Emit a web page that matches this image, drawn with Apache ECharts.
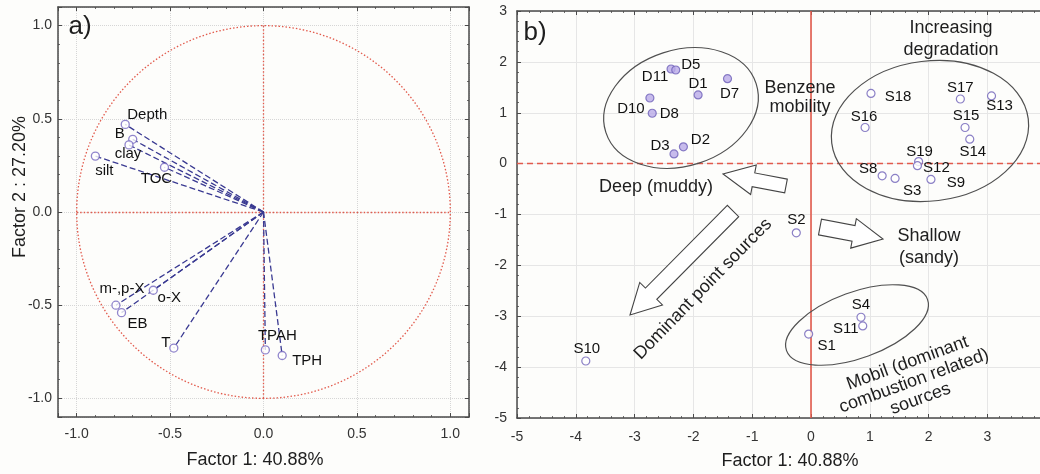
<!DOCTYPE html>
<html><head><meta charset="utf-8">
<script src="https://cdn.jsdelivr.net/npm/echarts@6/dist/echarts.min.js"></script>
<style>html,body{margin:0;padding:0;background:#fdfdfb;overflow:hidden;} #c{width:1040px;height:474px;}</style>
</head><body><div id="c"></div>
<script>
// ---- Panel a: factor loadings ----
const loadingVars = ['Depth','B','clay','silt','TOC','m-,p-X','o-X','EB','T','TPAH','TPH'];
const loadingF1  = [-0.74,-0.70,-0.72,-0.90,-0.53,-0.79,-0.59,-0.76,-0.48,0.01,0.10];
const loadingF2  = [0.47,0.39,0.36,0.30,0.24,-0.50,-0.42,-0.54,-0.73,-0.74,-0.77];

// ---- Panel b: factor scores ----
const deepSites = ['D11','D5','D1','D7','D10','D8','D3','D2'];
const deepF1 = [-2.38,-2.30,-1.92,-1.42,-2.74,-2.70,-2.33,-2.17];
const deepF2 = [1.86,1.84,1.35,1.67,1.29,0.99,0.19,0.33];

const shallowSites = ['S18','S16','S17','S13','S15','S14','S19','S12','S8','S3','S9','S2','S4','S11','S1','S10'];
const shallowF1 = [1.02,0.92,2.54,3.07,2.62,2.70,1.83,1.81,1.21,1.43,2.04,-0.25,0.85,0.88,-0.04,-3.83];
const shallowF2 = [1.38,0.71,1.27,1.33,0.71,0.48,0.04,-0.04,-0.24,-0.29,-0.31,-1.36,-3.02,-3.19,-3.35,-3.88];

// axis titles
const xTitleA = 'Factor 1: 40.88%';
const yTitleA = 'Factor 2 : 27.20%';
const xTitleB = 'Factor 1: 40.88%';

// ---- layout (label offsets in px, not data) ----
const labelOffsetA = {'Depth':[22,-10],'B':[-13,-5],'clay':[-1,9],'silt':[9,15],'TOC':[-8,12],
  'm-,p-X':[6,-16],'o-X':[16,8],'EB':[16,11],'T':[-8,-5],'TPAH':[12,-14],'TPH':[25,5]};
const labelOffsetB = {D11:[-16,8],D5:[15,-5],D1:[0,-11],D7:[2,15],D10:[-19,11],D8:[17,1],D3:[-14,-8],D2:[17,-7],
  S18:[27,3],S16:[-1,-11],S17:[0,-11],S13:[8,10],S15:[1,-12],S14:[3,13],S19:[1,-10],S12:[19,2],S8:[-14,-7],
  S3:[17,12],S9:[25,3],S2:[0,-13],S4:[0,-12],S11:[-17,3],S1:[18,12],S10:[1,-12]};

const FONT = '"Liberation Sans", Arial, Helvetica, sans-serif';
const TXT = '#1e1e1e';
const AXC = '#4a4a4a';
const RED = '#e25a4c';

function axisBase(extra){
  return Object.assign({
    type:'value',
    axisLine:{show:true, onZero:false, lineStyle:{color:AXC, width:1.5}},
    axisTick:{show:true, inside:true, length:4, lineStyle:{color:AXC, width:1}},
    minorTick:{show:true, splitNumber:5, length:2, lineStyle:{color:AXC, width:0.8}},
    axisLabel:{show:true, color:'#333', fontFamily:FONT, fontSize:14},
    splitLine:{show:false}
  }, extra);
}
const fmtA = v => { const r = Math.round(v*2)/2; return Math.abs(r-v) < 1e-6 ? v.toFixed(1) : ''; };
const fmtB = v => String(Math.round(v));

const splitA = {show:true, lineStyle:{color:'#d6d6d6', type:'dotted', width:1}};
const splitB = {show:true, lineStyle:{color:'#e6e6e6', type:'solid', width:1}};
const lbl = {show:true, position:'inside', formatter:'{b}', color:'#111', opacity:1, fontFamily:FONT, fontSize:15, textBorderWidth:0, textBorderColor:'transparent'};

const option = {
  animation:false,
  backgroundColor:'#fdfdfb',
  textStyle:{fontFamily:FONT},
  grid:[
    {left:58, top:7, width:411, height:410, outerBoundsMode:'none', containLabel:false},
    {left:517, top:11, width:588, height:407, outerBoundsMode:'none', containLabel:false}
  ],
  xAxis:[
    axisBase({gridIndex:0, position:'bottom', min:-1.1, max:1.1, splitNumber:4,
      axisLabel:{color:'#333', fontFamily:FONT, fontSize:14, margin:10, formatter:fmtA},
      splitLine:splitA}),
    axisBase({gridIndex:0, position:'top', min:-1.1, max:1.1, splitNumber:4, axisLabel:{show:false}}),
    axisBase({gridIndex:1, position:'bottom', min:-5, max:5, interval:1,
      axisLabel:{color:'#333', fontFamily:FONT, fontSize:14, margin:12, formatter:fmtB},
      splitLine:splitB}),
    axisBase({gridIndex:1, position:'top', min:-5, max:5, interval:1, axisLabel:{show:false}})
  ],
  yAxis:[
    axisBase({gridIndex:0, position:'left', min:-1.1, max:1.1, splitNumber:4,
      axisLabel:{color:'#333', fontFamily:FONT, fontSize:14, margin:6, formatter:fmtA},
      splitLine:splitA}),
    axisBase({gridIndex:0, position:'right', min:-1.1, max:1.1, splitNumber:4, axisLabel:{show:false}}),
    axisBase({gridIndex:1, position:'left', min:-5, max:3, interval:1,
      axisLabel:{color:'#333', fontFamily:FONT, fontSize:14, margin:10, formatter:fmtB},
      splitLine:splitB})
  ],
  series:[
    {
      type:'lines', coordinateSystem:'cartesian2d', xAxisIndex:0, yAxisIndex:0, silent:true, z:3,
      lineStyle:{color:'#3a3a92', width:1.3, type:[6,3], opacity:1},
      data: loadingVars.map((n,i)=>({coords:[[0,0],[loadingF1[i],loadingF2[i]]]}))
    },
    {
      type:'scatter', xAxisIndex:0, yAxisIndex:0, z:4, symbol:'circle', symbolSize:8,
      itemStyle:{color:'#ffffff', borderColor:'#7466bf', borderWidth:1.3},
      label:lbl,
      data: loadingVars.map((n,i)=>({name:n, value:[loadingF1[i],loadingF2[i]], label:{offset:labelOffsetA[n]}})),
      markLine:{
        silent:true, symbol:['none','none'], label:{show:false}, z:1,
        lineStyle:{color:RED, type:[1.5,2], width:1.3},
        data:[
          [{coord:[-1,0]},{coord:[1,0]}],
          [{coord:[0,-1]},{coord:[0,1]}]
        ]
      }
    },
    {
      type:'scatter', xAxisIndex:2, yAxisIndex:2, z:4, symbol:'circle', symbolSize:8,
      itemStyle:{color:'#b9aae8', borderColor:'#6e60b8', borderWidth:1.2},
      label:lbl,
      data: deepSites.map((n,i)=>({name:n, value:[deepF1[i],deepF2[i]], label:{offset:labelOffsetB[n]}})),
      markLine:{
        silent:true, symbol:['none','none'], label:{show:false}, z:1,
        data:[
          {yAxis:0, lineStyle:{color:RED, type:[6,4], width:1.3}},
          {xAxis:0, lineStyle:{color:RED, type:'solid', width:1.6}}
        ]
      }
    },
    {
      type:'scatter', xAxisIndex:2, yAxisIndex:2, z:4, symbol:'circle', symbolSize:8,
      itemStyle:{color:'#ffffff', borderColor:'#6e60b8', borderWidth:1.2},
      label:lbl,
      data: shallowSites.map((n,i)=>({name:n, value:[shallowF1[i],shallowF2[i]], label:{offset:labelOffsetB[n]}}))
    }
  ]
};

const chart = echarts.init(document.getElementById('c'), null, {renderer:'canvas'});
chart.setOption(option);

function arrowPts(tail, tip, bw, hl, hw){
  const dx = tip[0]-tail[0], dy = tip[1]-tail[1];
  const L = Math.hypot(dx,dy), ux = dx/L, uy = dy/L, px = -uy, py = ux;
  const bx = tip[0]-ux*hl, by = tip[1]-uy*hl;
  return [
    [tail[0]+px*bw, tail[1]+py*bw], [bx+px*bw, by+py*bw], [bx+px*hw, by+py*hw],
    tip, [bx-px*hw, by-py*hw], [bx-px*bw, by-py*bw], [tail[0]-px*bw, tail[1]-py*bw]
  ];
}
const deg = Math.PI/180;
function txt(x,y,t,size,extra,lh){
  return Object.assign({type:'text', x, y, silent:true, z:20,
    style:{text:t, fontFamily:FONT, fontSize:size, fill:TXT, align:'center', verticalAlign:'middle', lineHeight:lh||Math.round(size*1.2)}}, extra||{});
}
function ell(cx,cy,rx,ry,rot){
  return {type:'ellipse', x:cx, y:cy, rotation:rot*deg, silent:true, z:15,
    shape:{cx:0, cy:0, rx, ry}, style:{fill:'none', stroke:'#505050', lineWidth:1.2}};
}
function arrow(tail,tip,bw,hl,hw){
  return {type:'polygon', silent:true, z:15, shape:{points:arrowPts(tail,tip,bw,hl,hw)},
    style:{fill:'#ffffff', stroke:'#444', lineWidth:1.1}};
}

const o = chart.convertToPixel({gridIndex:0}, [0,0]);
const u = chart.convertToPixel({gridIndex:0}, [1,1]);

const graphics = [
  {type:'ellipse', silent:true, z:1, shape:{cx:o[0], cy:o[1], rx:u[0]-o[0], ry:o[1]-u[1]},
   style:{fill:'none', stroke:RED, lineWidth:1.3, lineDash:[1.5,2]}},
  txt(80, 27, 'a)', 26),
  txt(20, 187, yTitleA, 18, {rotation:Math.PI/2}),
  txt(255, 460, xTitleA, 18),
  txt(535, 33, 'b)', 26),
  txt(790, 461, xTitleB, 18),
  ell(681, 108, 79, 58, 18),
  ell(930, 131, 99, 70, 7),
  ell(857, 325, 75, 33, 20),
  arrow([786,186],[723,174],7,31,15),
  arrow([820,227],[883,239],8,30,15),
  arrow([733,211],[630,315],8,30,16),
  txt(951, 39, 'Increasing\ndegradation', 18, null, 22),
  txt(800, 98, 'Benzene\nmobility', 18, null, 19),
  txt(656, 187, 'Deep (muddy)', 18),
  txt(929, 247, 'Shallow\n(sandy)', 18, null, 22),
  txt(703, 289, 'Dominant point sources', 18, {rotation:45.8*deg}),
  txt(914, 381, 'Mobil (dominant\ncombustion related)\nsources', 18, {rotation:20*deg}, 19)
];
chart.setOption({graphic: graphics});
</script>
</body></html>
